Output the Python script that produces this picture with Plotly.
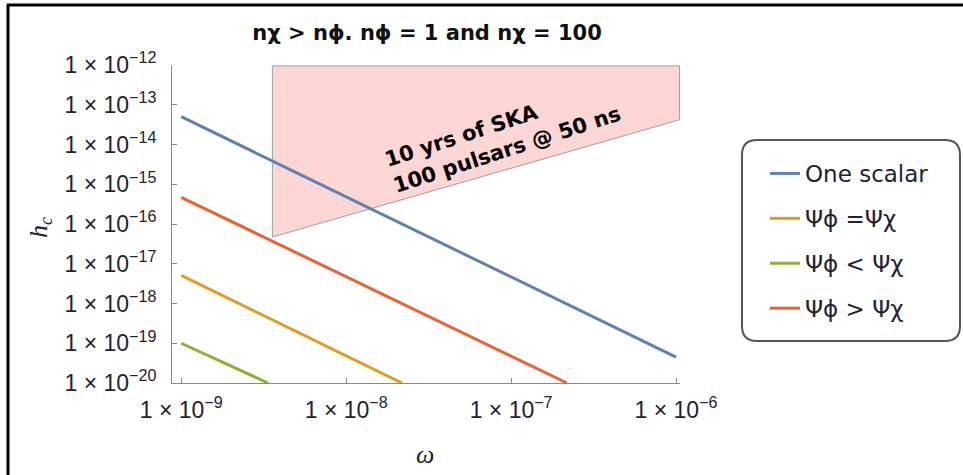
import plotly.graph_objects as go

# ---- data ----
omega_one = [1e-9, 1e-6]
h_one = [5.0e-14, 4.5e-20]

omega_eq = [1e-9, 2.18e-8]
h_eq = [5.1e-18, 1e-20]

omega_lt = [1e-9, 3.36e-9]
h_lt = [1.0e-19, 1e-20]

omega_gt = [1e-9, 2.18e-7]
h_gt = [4.7e-16, 1e-20]

ska_omega = [3.57e-9, 3.57e-9, 1.05e-6, 1.05e-6, 3.57e-9]
ska_h = [4.7e-17, 9.5e-13, 9.5e-13, 4.2e-14, 4.7e-17]

series_names = ["One scalar", "Ψϕ =Ψχ", "Ψϕ &lt; Ψχ", "Ψϕ &gt; Ψχ"]
series_colors = ["#5E81B5", "#E19C24", "#8FB032", "#EB6235"]

x_tickvals = [1e-9, 1e-8, 1e-7, 1e-6]
x_ticktext = ["1 × 10<sup>−9</sup>", "1 × 10<sup>−8</sup>", "1 × 10<sup>−7</sup>", "1 × 10<sup>−6</sup>"]
y_tickvals = [1e-12, 1e-13, 1e-14, 1e-15, 1e-16, 1e-17, 1e-18, 1e-19, 1e-20]
y_ticktext = ["1 × 10<sup>−%d</sup>" % e for e in range(12, 21)]

# ---- figure ----
W, H = 963, 475
L, R, T, B = 172, 283, 65, 92
PW, PH = W - L - R, H - T - B


def px(X):
    return (X - L) / PW


def py(Y):
    return (H - B - Y) / PH


fig = go.Figure()

fig.add_trace(go.Scatter(
    x=ska_omega, y=ska_h, mode="lines", fill="toself",
    fillcolor="#FDD6D6", line=dict(color="#A0A0A0", width=1),
    showlegend=False, hoverinfo="skip"))

order = [(omega_one, h_one, 0), (omega_eq, h_eq, 1), (omega_lt, h_lt, 2), (omega_gt, h_gt, 3)]
for xs, ys, i in order:
    fig.add_trace(go.Scatter(
        x=xs, y=ys, mode="lines", name=series_names[i],
        legendgroup="g%d" % i,
        line=dict(color=series_colors[i], width=3)))

axis_common = dict(
    type="log", showgrid=False, zeroline=False, showline=True,
    linecolor="#8a8a8a", linewidth=1, ticks="inside", ticklen=5,
    tickcolor="#8a8a8a", mirror=False,
    tickfont=dict(family="Liberation Sans, Arial, sans-serif", size=23, color="#222233"),
)

fig.update_xaxes(range=[-9.056, -5.976], tickvals=x_tickvals, ticktext=x_ticktext,
                 ticklabelstandoff=6, **axis_common)
fig.update_yaxes(range=[-20, -12], tickvals=y_tickvals, ticktext=y_ticktext,
                 ticklabelstandoff=10, **axis_common)

# rounded legend frame
x0, x1 = px(742), px(960)
y0, y1 = py(341), py(140)
rx, ry = 15 / PW, 15 / PH
path = (f"M {x0+rx},{y1} L {x1-rx},{y1} Q {x1},{y1} {x1},{y1-ry} "
        f"L {x1},{y0+ry} Q {x1},{y0} {x1-rx},{y0} L {x0+rx},{y0} "
        f"Q {x0},{y0} {x0},{y0+ry} L {x0},{y1-ry} Q {x0},{y1} {x0+rx},{y1} Z")

shapes = [
    dict(type="path", xref="paper", yref="paper", path=path,
         line=dict(color="#555555", width=2), fillcolor="rgba(0,0,0,0)"),
    dict(type="line", xref="paper", yref="paper", x0=px(8), x1=px(8), y0=py(475), y1=py(4),
         line=dict(color="black", width=3)),
    dict(type="line", xref="paper", yref="paper", x0=px(7), x1=px(963), y0=py(5), y1=py(5),
         line=dict(color="black", width=3)),
]

annotations = [
    dict(text="10 yrs of SKA<br>100 pulsars @ 50 ns", x=-7.05, y=-13.8, xref="x", yref="y",
         showarrow=False, textangle=-18, align="left",
         font=dict(family="DejaVu Sans, sans-serif", size=21, color="black", weight="bold")),
    dict(text="ω", x=px(425), y=py(471), xref="paper", yref="paper", showarrow=False,
         font=dict(family="Liberation Serif, serif", size=26, color="#222233", style="italic")),
    dict(text="h<sub>c</sub>", x=px(22), y=py(228), xref="paper", yref="paper", showarrow=False,
         textangle=-90,
         font=dict(family="Liberation Serif, serif", size=26, color="#222233", style="italic")),
]

fig.update_layout(
    width=W, height=H,
    margin=dict(l=L, r=R, t=T, b=B),
    paper_bgcolor="white", plot_bgcolor="white",
    title=dict(text="nχ &gt; nϕ. nϕ = 1 and nχ = 100", x=px(427), xref="paper", xanchor="center",
               y=(H - 33) / H, yref="container", yanchor="middle",
               font=dict(family="DejaVu Sans, sans-serif", size=21, color="#111111", weight="bold")),
    legend=dict(x=px(765), y=py(152), xanchor="left", yanchor="top",
                bgcolor="rgba(0,0,0,0)", borderwidth=0, tracegroupgap=12,
                font=dict(family="DejaVu Sans, sans-serif", size=23, color="#222233")),
    shapes=shapes,
    annotations=annotations,
)

fig.write_html("out.html")
